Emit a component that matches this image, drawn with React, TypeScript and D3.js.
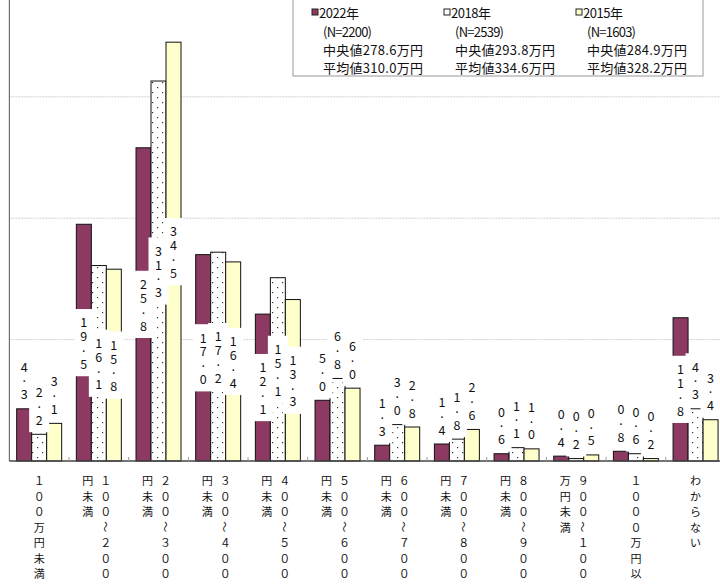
import * as d3 from "d3";

const categories = [
  "１００万円未満",
  "１００～２００万円未満",
  "２００～３００万円未満",
  "３００～４００万円未満",
  "４００～５００万円未満",
  "５００～６００万円未満",
  "６００～７００万円未満",
  "７００～８００万円未満",
  "８００～９００万円未満",
  "９００～１０００万円未満",
  "１０００万円以上",
  "わからない"
];

const seriesNames = ["2022年", "2018年", "2015年"];
const values2022 = [4.3, 19.5, 25.8, 17.0, 12.1, 5.0, 1.3, 1.4, 0.6, 0.4, 0.8, 11.8];
const values2018 = [2.2, 16.1, 31.3, 17.2, 15.1, 6.8, 3.0, 1.8, 1.1, 0.2, 0.6, 4.3];
const values2015 = [3.1, 15.8, 34.5, 16.4, 13.3, 6.0, 2.8, 2.6, 1.0, 0.5, 0.2, 3.4];
const sampleSizes = ["(N=2200)", "(N=2539)", "(N=1603)"];
const medians = ["中央値278.6万円", "中央値293.8万円", "中央値284.9万円"];
const means = ["平均値310.0万円", "平均値334.6万円", "平均値328.2万円"];
const gridTicks = [10, 20, 30, 40];

const seriesValues = [values2022, values2018, values2015];
const fills = ["#8c3a62", "url(#dots)", "#ffffcc"];
const font = "'Noto Sans CJK JP', 'Noto Sans', sans-serif";

export default function App() {
  const width = 720;
  const height = 584;
  const left = 9.33;
  const right = 725.4;
  const base = 461;
  const x = d3.scaleBand(categories, [left, right]);
  const step = x.step();
  const xs = d3.scaleBand(seriesNames, [step * 0.123, step * 0.877]);
  const y = d3.scaleLinear([0, 40], [base, base - 40 * 12.14]);
  const bw = xs.bandwidth();
  const pitch = 13.8;

  const bars = seriesNames.flatMap((name, s) =>
    categories.map((cat, i) => ({ name, s, cat, i, value: seriesValues[s][i] }))
  );

  // legend lines are stretched to the widths of the original (a fixed-pitch font there)
  const legendRows = [
    { y: 12, dx: 7, texts: seriesNames, len: 40 },
    { y: 31, dx: 11, texts: sampleSizes, len: 49 },
    { y: 49.5, dx: 11, texts: medians, len: 100 },
    { y: 67, dx: 11, texts: means, len: 100 }
  ];

  return (
    <>
      <style>{`body{margin:0}`}</style>
      <svg width={width} height={height} style={{ display: "block", fontFamily: font }}>
        <defs>
          <pattern id="dots" width="10" height="10" patternUnits="userSpaceOnUse">
            <rect width="10" height="10" fill="#fff" />
            <rect x="2" y="2" width="1.2" height="1.2" fill="#333" />
            <rect x="7" y="7" width="1.2" height="1.2" fill="#333" />
          </pattern>
        </defs>

        {gridTicks.map(t => (
          <line key={t} x1={left} x2={width} y1={y(t)} y2={y(t)} stroke="#c4c4c4" strokeWidth={0.8} strokeDasharray="2,1" />
        ))}

        {bars.map(b => {
          const x0 = (x(b.cat) ?? 0) + (xs(b.name) ?? 0);
          return (
            <rect
              key={`${b.name}-${b.i}`}
              x={x0}
              y={y(b.value)}
              width={bw}
              height={base - y(b.value)}
              fill={fills[b.s]}
              stroke="#111"
              strokeWidth={1}
            />
          );
        })}

        <line x1={left} x2={left} y1={0} y2={base} stroke="#555" strokeWidth={1} />
        <line x1={left} x2={width} y1={base} y2={base} stroke="#444" strokeWidth={1.3} />
        {categories.slice(1).map(cat => (
          <line key={cat} x1={x(cat)} x2={x(cat)} y1={base - 4} y2={base} stroke="#999" strokeWidth={1} />
        ))}

        {bars.map(b => {
          const cx = (x(b.cat) ?? 0) + (xs(b.name) ?? 0) + bw / 2;
          const chars = b.value.toFixed(1).split("");
          const n = chars.length;
          const centerY = b.value >= 10 ? y(b.value / 2) : y(b.value) - 15 - ((n - 1) / 2) * pitch;
          const boxH = n * pitch + 12;
          return (
            <g key={`lbl-${b.name}-${b.i}`}>
              <rect x={cx - 10} y={centerY - boxH / 2} width={20} height={boxH} fill="#fff" />
              {chars.map((c, k) => (
                <text
                  key={k}
                  x={cx}
                  y={centerY + (k - (n - 1) / 2) * pitch + (c === "." ? -3 : 0)}
                  textAnchor="middle"
                  dominantBaseline="central"
                  fontSize={12.5}
                  fill="#111"
                >
                  {c}
                </text>
              ))}
            </g>
          );
        })}

        {categories.map(cat => {
          const cx = (x(cat) ?? 0) + step / 2;
          const chars = Array.from(cat);
          const cols = chars.length > 8 ? [chars.slice(0, 8), chars.slice(8)] : [chars];
          const colX = cols.length > 1 ? [cx + 7, cx - 11] : [cx];
          return (
            <g key={`cat-${cat}`}>
              {cols.map((col, ci) =>
                col.map((c, r) => {
                  const cy = 480 + r * 15.55;
                  return (
                    <text
                      key={`${ci}-${r}`}
                      x={colX[ci]}
                      y={cy}
                      textAnchor="middle"
                      dominantBaseline="central"
                      fontSize={11}
                      fill="#111"
                      transform={c === "～" ? `rotate(90 ${colX[ci]} ${cy})` : undefined}
                    >
                      {c}
                    </text>
                  );
                })
              )}
            </g>
          );
        })}

        <rect x={293} y={-5} width={410} height={81} fill="#fff" stroke="#999" strokeWidth={1} />
        {seriesNames.map((name, s) => {
          const lx = [312, 444, 576][s];
          return (
            <g key={`leg-${name}`}>
              <rect x={lx} y={9} width={6} height={6} fill={s === 1 ? "#fff" : fills[s]} stroke="#222" strokeWidth={1} />
              {legendRows.map(row => (
                <text
                  key={row.y}
                  x={lx + row.dx}
                  y={row.y}
                  dominantBaseline="central"
                  fontSize={13}
                  fill="#111"
                  textLength={row.len}
                  lengthAdjust="spacing"
                >
                  {row.texts[s]}
                </text>
              ))}
            </g>
          );
        })}
      </svg>
    </>
  );
}
